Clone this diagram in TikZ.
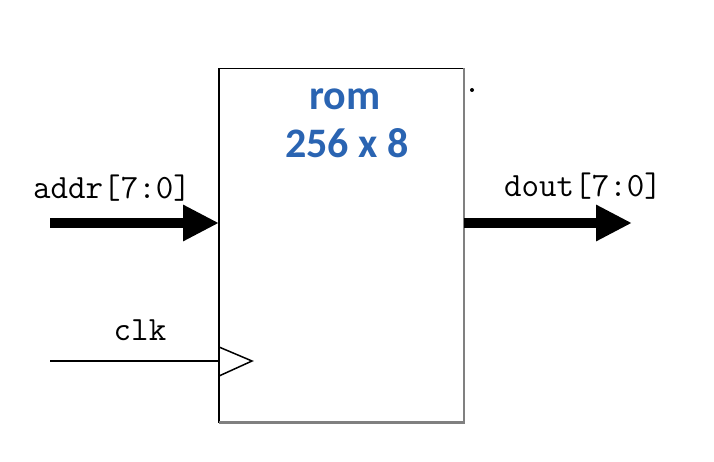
\documentclass[tikz,border=0pt]{standalone}
\usepackage{fontspec}
\setmainfont{Carlito}
\usetikzlibrary{arrows.meta}
\definecolor{romblue}{RGB}{42,100,178}

\begin{document}
\begin{tikzpicture}[x=1pt,y=-1pt,
  bus/.style={line width=10pt, -{Triangle[length=36pt,width=34pt]}},
  sig/.style={font=\fontsize{34}{34}\selectfont\ttfamily\addfontfeature{LetterSpace=6}, anchor=base},
  title/.style={font=\fontsize{42}{42}\selectfont\bfseries, text=romblue, anchor=base}]
\useasboundingbox (0,0) rectangle (714,462);
\node[minimum width=245pt, minimum height=354pt, inner sep=0pt, outer sep=0pt] (rom) at (341.5,245.5) {};
\draw[line width=1.5pt] (rom.south west) -- (rom.north west) -- (rom.north east);
\draw[line width=2.5pt, color=gray] (rom.north east) -- (rom.south east) -- (rom.south west);
\node[title] (name) at (345,110) {rom};
\node[title] (size) at (347,158) {256 x 8};

\coordinate (addrin) at (50,223);
\coordinate (addrpin) at (219,223);
\coordinate (doutpin) at (464,223);
\coordinate (doutout) at (632,223);
\coordinate (clkin) at (50,361);
\coordinate (clkpin) at (219,361);

\draw[bus] (addrin) -- (addrpin);
\draw[bus] (doutpin) -- (doutout);
\draw[line width=1.5pt] (clkin) -- (clkpin);
\draw[line width=1.5pt] (clkpin) ++(0,-14) -- ++(33,14) -- ++(-33,15);

\node[sig] (addr) at (112,199) {addr[7:0]};
\node[sig] (dout) at (583,197) {dout[7:0]};
\node[sig] (clk) at (140,340) {clk};
\fill (472,90) circle (2pt);
\end{tikzpicture}
\end{document}
